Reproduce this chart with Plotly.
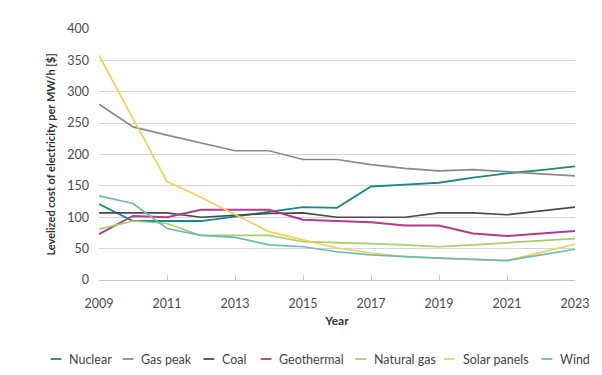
import plotly.graph_objects as go

years = list(range(2009, 2024))
series_names = ["Nuclear", "Gas peak", "Coal", "Geothermal", "Natural gas", "Solar panels", "Wind"]
nuclear = [121, 94, 94, 94, 101, 108, 116, 115, 149, 152, 155, 163, 170, 175, 181]
gas_peak = [280, 244, 231, 218, 206, 206, 192, 192, 184, 178, 174, 176, 172, 169, 166]
coal = [107, 107, 107, 100, 103, 106, 107, 100, 100, 100, 107, 107, 104, 110, 116]
geothermal = [73, 102, 100, 112, 112, 112, 96, 94, 92, 87, 87, 74, 70, 74, 78]
natural_gas = [81, 94, 90, 71, 71, 71, 61, 60, 58, 56, 53, 56, 59, 62, 66]
solar = [358, 258, 157, 132, 105, 77, 64, 51, 43, 37, 35, 33, 31, 44, 57]
wind = [134, 122, 82, 71, 68, 56, 53, 45, 40, 37, 35, 33, 31, 40, 49]
values = [nuclear, gas_peak, coal, geothermal, natural_gas, solar, wind]
x_ticks = [2009, 2011, 2013, 2015, 2017, 2019, 2021, 2023]
y_ticks = [0, 50, 100, 150, 200, 250, 300, 350, 400]

colors = ["#17898a", "#8a8a8a", "#4a4a4a", "#b53a8c", "#a8cf66", "#f6cd55", "#6bbcb6"]
widths = [1.8, 1.7, 1.7, 2.0, 1.7, 1.7, 1.7]

FONT = "Lato"
fig = go.Figure()
for name, vals, c, w in zip(series_names, values, colors, widths):
    fig.add_trace(go.Scatter(x=years, y=vals, mode="lines", name=name,
                             line=dict(color=c, width=w), showlegend=False))

# custom compact legend (layout positions in pixels)
W, H = 602, 375
ml, mr, mt, mb = 99, 20, 29, 95
pw, ph = W - ml - mr, H - mt - mb
legend_sym_x = [50, 123, 205, 263, 359, 449, 548]
legend_y = 359
def px2paper_x(px):
    return (px - ml) / pw
def px2paper_y(py):
    return (H - mb - py) / ph

for name, c, sx in zip(series_names, colors, legend_sym_x):
    fig.add_shape(type="line", xref="paper", yref="paper",
                  x0=px2paper_x(sx), x1=px2paper_x(sx + 11),
                  y0=px2paper_y(legend_y), y1=px2paper_y(legend_y),
                  line=dict(color=c, width=1.8))
    fig.add_annotation(xref="paper", yref="paper", x=px2paper_x(sx + 17), y=px2paper_y(legend_y),
                       text=name, showarrow=False, xanchor="left", yanchor="middle",
                       font=dict(family=FONT, size=12.5, color="#444444"))

fig.update_layout(
    width=W, height=H,
    margin=dict(l=ml, r=mr, t=mt, b=mb),
    plot_bgcolor="white", paper_bgcolor="white",
    font=dict(family=FONT, size=12, color="#555555"),
    showlegend=False,
    xaxis=dict(range=[2009, 2023], tickvals=x_ticks, ticks="inside", ticklen=5,
               tickcolor="#c8c8c8", showline=True, linecolor="#c8c8c8", linewidth=1,
               showgrid=False, zeroline=False, ticklabelstandoff=12,
               tickfont=dict(family=FONT, size=12.5, color="#4a4a4a"),
               title=dict(text="<b>Year</b>", font=dict(family=FONT, size=12, color="#333333"), standoff=6)),
    yaxis=dict(range=[0, 400], tickvals=y_ticks, showgrid=True, gridcolor="#d4d4d4", gridwidth=1,
               zeroline=False, showline=False, ticks="", ticklabelstandoff=9,
               tickfont=dict(family=FONT, size=12.5, color="#4a4a4a"),
               title=dict(text="<b>Levelized cost of electricity per MW/h [$]</b>",
                          font=dict(family=FONT, size=11, color="#333333"), standoff=9)),
)

fig.write_html("out.html", config={"displayModeBar": False},
               post_script="document.body.style.margin='0';document.body.style.padding='0';")
